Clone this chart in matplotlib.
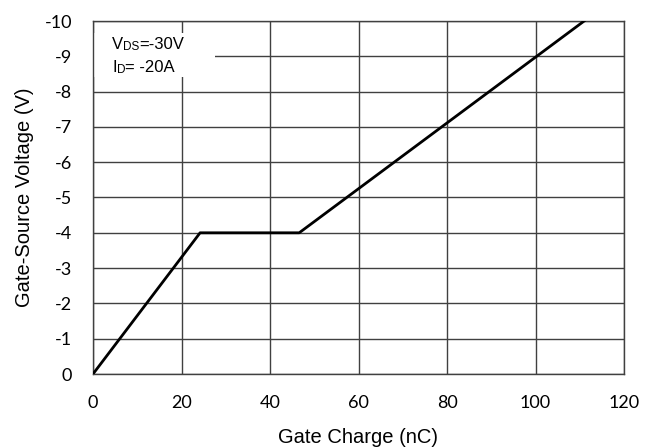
import matplotlib
matplotlib.use("Agg")
import matplotlib.pyplot as plt
from matplotlib.transforms import IdentityTransform
from matplotlib.patches import Rectangle

# Data
gate_charge = [0, 24.2, 46.6, 111.0]
gate_voltage = [0, -4, -4, -10]
x_ticks = [0, 20, 40, 60, 80, 100, 120]
y_ticks = [0, -1, -2, -3, -4, -5, -6, -7, -8, -9, -10]
note_lines = [("V", "DS", "=-30V"), ("I", "D", "= -20A")]

W, H = 658, 448
fig = plt.figure(figsize=(W / 100, H / 100), dpi=100)
ax = fig.add_axes([93 / W, (H - 374) / H, (624 - 93) / W, (374 - 21) / H])

ax.plot(gate_charge, gate_voltage, color='black', lw=2, zorder=3)
ax.set_xlim(0, 120)
ax.set_ylim(0, -10)
ax.set_xticks(x_ticks)
ax.set_yticks(y_ticks)
ax.set_xticklabels([str(v) for v in x_ticks], fontfamily='Lato', fontsize=13)
ax.set_yticklabels([str(v) for v in y_ticks], fontfamily='Lato', fontsize=13)
ax.tick_params(axis='x', length=0, pad=15)
ax.tick_params(axis='y', length=0, pad=15)
ax.grid(True, color='#404040', lw=1)
for s in ax.spines.values():
    s.set_color('#404040')
    s.set_linewidth(1)
ax.set_axisbelow(True)

ax.set_xlabel('Gate Charge (nC)', fontfamily='Liberation Sans', fontsize=14.5, va='center')
ax.xaxis.set_label_coords(0.5, (374 - 437) / 353)
ax.set_ylabel('Gate-Source Voltage (V)', fontfamily='Liberation Sans', fontsize=14.5, va='center')
ax.yaxis.set_label_coords((25 - 93) / 531, 0.5)

# white box behind the note (covers grid)
x_per_px = 120 / 531
y_per_px = 10 / 353
ax.add_patch(Rectangle((0, -(374 - 77) * y_per_px), (215 - 93) * x_per_px,
                       -(77 - 33) * y_per_px, facecolor='white', edgecolor='none', zorder=1))

fig.canvas.draw()
renderer = fig.canvas.get_renderer()
baselines = [H - 49, H - 72]
for (main, sub, rest), yb in zip(note_lines, baselines):
    x = 112
    t = fig.text(x, yb, main, transform=IdentityTransform(), fontfamily='Liberation Sans',
                 fontsize=12, va='baseline', ha='left')
    x = t.get_window_extent(renderer).x1
    t = fig.text(x, yb - 1, sub, transform=IdentityTransform(), fontfamily='Liberation Sans',
                 fontsize=8.5, va='baseline', ha='left')
    x = t.get_window_extent(renderer).x1
    fig.text(x, yb, rest, transform=IdentityTransform(), fontfamily='Liberation Sans',
             fontsize=12, va='baseline', ha='left')

fig.savefig('out.png', dpi=100)
